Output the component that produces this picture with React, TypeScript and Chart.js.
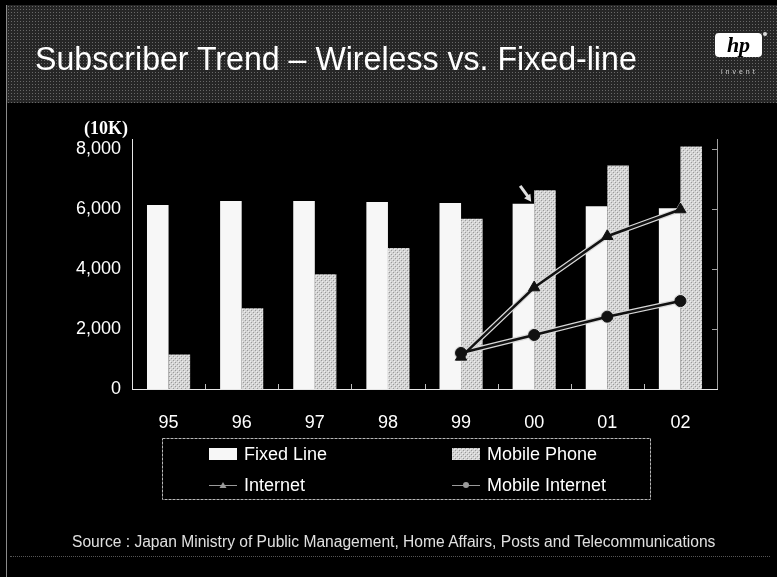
import React, { useEffect, useRef } from "react";
import { Chart, registerables } from "chart.js";

Chart.register(...registerables);

const categories = ["95", "96", "97", "98", "99", "00", "01", "02"];
const fixedLine = [6130, 6260, 6260, 6230, 6200, 6170, 6090, 6020];
const mobilePhone = [1150, 2690, 3825, 4700, 5670, 6625, 7450, 8080];
const internet = [null, null, null, null, 1070, 3380, 5090, 5980];
const mobileInternet = [null, null, null, null, 1200, 1800, 2410, 2930];
const yTicks = [0, 2000, 4000, 6000, 8000];
const seriesNames = ["Fixed Line", "Mobile Phone", "Internet", "Mobile Internet"];

const FONT = "'Liberation Sans', Arial, sans-serif";

function makePattern(): CanvasPattern | string {
  const c = document.createElement("canvas");
  c.width = 4;
  c.height = 4;
  const g = c.getContext("2d");
  if (!g) return "#c8c8c8";
  g.fillStyle = "#d4d4d4";
  g.fillRect(0, 0, 4, 4);
  g.fillStyle = "#9a9a9a";
  g.fillRect(1, 0, 1, 1);
  g.fillRect(3, 2, 1, 1);
  g.fillStyle = "#eeeeee";
  g.fillRect(0, 3, 1, 1);
  g.fillRect(2, 1, 1, 1);
  return g.createPattern(c, "repeat") || "#c8c8c8";
}

const decorPlugin = {
  id: "decor",
  afterDatasetsDraw(chart: any) {
    const { ctx, chartArea: a, scales } = chart;
    const x = scales.x;
    const y = scales.y;
    ctx.save();
    // right axis with inward ticks
    ctx.strokeStyle = "#a0a0a0";
    ctx.lineWidth = 1;
    ctx.beginPath();
    ctx.moveTo(a.right + 0.5, a.top);
    ctx.lineTo(a.right + 0.5, a.bottom);
    yTicks.forEach((v) => {
      if (v === 0) return;
      const py = Math.round(y.getPixelForValue(v)) + 0.5;
      ctx.moveTo(a.right, py);
      ctx.lineTo(a.right - 5, py);
    });
    ctx.stroke();
    // inner x ticks between categories
    ctx.strokeStyle = "#c0c0c0";
    ctx.beginPath();
    for (let i = 1; i < categories.length; i++) {
      const px = Math.round((x.getPixelForValue(i - 1) + x.getPixelForValue(i)) / 2) + 0.5;
      ctx.moveTo(px, a.bottom);
      ctx.lineTo(px, a.bottom - 5);
    }
    ctx.stroke();
    // arrow annotation pointing at Fixed Line 00 bar
    const bar: any = chart.getDatasetMeta(0).data[5];
    if (bar) {
      const tx = bar.x + bar.width / 2 - 3;
      const ty = bar.y - 2;
      const sx = tx - 11;
      const sy = ty - 16;
      ctx.strokeStyle = "#e0e0e0";
      ctx.fillStyle = "#e0e0e0";
      ctx.lineWidth = 3;
      ctx.beginPath();
      ctx.moveTo(sx, sy);
      ctx.lineTo(tx - 3, ty - 5);
      ctx.stroke();
      const ang = Math.atan2(ty - sy, tx - sx);
      ctx.beginPath();
      ctx.moveTo(tx, ty);
      ctx.lineTo(tx - 8 * Math.cos(ang - 0.5), ty - 8 * Math.sin(ang - 0.5));
      ctx.lineTo(tx - 8 * Math.cos(ang + 0.5), ty - 8 * Math.sin(ang + 0.5));
      ctx.closePath();
      ctx.fill();
    }
    ctx.restore();
  },
  afterDraw(chart: any) {
    const { ctx } = chart;
    ctx.save();
    // legend box
    ctx.strokeStyle = "#b8b8b8";
    ctx.lineWidth = 1;
    ctx.setLineDash([3, 1]);
    ctx.strokeRect(162.5, 438.5, 488, 61);
    ctx.setLineDash([]);
    const cols = [209, 452];
    const rows = [454, 485];
    const items = chart.data.datasets.filter((d: any) => !d.isHalo);
    items.forEach((ds: any, i: number) => {
      const cx = cols[i % 2];
      const cy = rows[Math.floor(i / 2)];
      if (ds.type === "line") {
        ctx.strokeStyle = "#9a9a9a";
        ctx.lineWidth = 1;
        ctx.beginPath();
        ctx.moveTo(cx, cy + 0.5);
        ctx.lineTo(cx + 28, cy + 0.5);
        ctx.stroke();
        ctx.fillStyle = "#9a9a9a";
        ctx.beginPath();
        if (ds.pointStyle === "triangle") {
          ctx.moveTo(cx + 14, cy - 3);
          ctx.lineTo(cx + 17.5, cy + 3);
          ctx.lineTo(cx + 10.5, cy + 3);
          ctx.closePath();
        } else {
          ctx.arc(cx + 14, cy, 3, 0, Math.PI * 2);
        }
        ctx.fill();
      } else {
        ctx.fillStyle = ds.backgroundColor;
        ctx.fillRect(cx, cy - 6, 28, 12);
      }
      ctx.fillStyle = "#ffffff";
      ctx.font = "18px " + FONT;
      ctx.textBaseline = "alphabetic";
      ctx.textAlign = "left";
      ctx.fillText(ds.label, cx + 35, cy + 6);
    });
    ctx.restore();
  },
};

export default function App() {
  const canvasRef = useRef<HTMLCanvasElement | null>(null);

  useEffect(() => {
    const canvas = canvasRef.current;
    if (!canvas) return;
    const pattern = makePattern();
    const chart = new Chart(canvas, {
      type: "bar",
      data: {
        labels: categories,
        datasets: [
          {
            type: "bar",
            label: seriesNames[0],
            data: fixedLine,
            backgroundColor: "#f7f7f7",
            borderWidth: 0,
            order: 3,
          },
          {
            type: "bar",
            label: seriesNames[1],
            data: mobilePhone,
            backgroundColor: pattern as any,
            borderWidth: 0,
            order: 3,
          },
          {
            type: "line",
            label: "_halo1",
            isHalo: true,
            data: internet,
            borderColor: "#d8d8d8",
            borderWidth: 5,
            pointStyle: "triangle",
            pointRadius: 8,
            pointBackgroundColor: "#d8d8d8",
            pointBorderWidth: 0,
            order: 2,
          } as any,
          {
            type: "line",
            label: "_halo2",
            isHalo: true,
            data: mobileInternet,
            borderColor: "#d8d8d8",
            borderWidth: 5,
            pointStyle: "circle",
            pointRadius: 7,
            pointBackgroundColor: "#d8d8d8",
            pointBorderWidth: 0,
            order: 2,
          } as any,
          {
            type: "line",
            label: seriesNames[2],
            data: internet,
            borderColor: "#111111",
            borderWidth: 2.5,
            pointStyle: "triangle",
            pointRadius: 6.5,
            pointBackgroundColor: "#111111",
            pointBorderColor: "#111111",
            pointBorderWidth: 1,
            order: 1,
          } as any,
          {
            type: "line",
            label: seriesNames[3],
            data: mobileInternet,
            borderColor: "#111111",
            borderWidth: 2.5,
            pointStyle: "circle",
            pointRadius: 5.5,
            pointBackgroundColor: "#111111",
            pointBorderColor: "#111111",
            pointBorderWidth: 1,
            order: 1,
          } as any,
        ],
      },
      options: {
        responsive: false,
        animation: false,
        events: [],
        datasets: {
          bar: { barPercentage: 1.0, categoryPercentage: 0.59 },
        },
        layout: { padding: { top: 139, right: 60, bottom: 128, left: 0 } },
        plugins: {
          legend: { display: false },
          tooltip: { enabled: false },
          title: { display: false },
        },
        scales: {
          x: {
            grid: { display: false, drawTicks: false },
            border: { display: true, color: "#e6e6e6", width: 1 },
            ticks: {
              color: "#ffffff",
              font: { size: 18, family: FONT },
              padding: 23,
              maxRotation: 0,
            },
            afterFit: (s: any) => {
              s.height = 60;
            },
          },
          y: {
            min: 0,
            max: 8330,
            grid: { display: false, drawTicks: false },
            border: { display: true, color: "#e6e6e6", width: 1 },
            ticks: {
              stepSize: 2000,
              color: "#ffffff",
              font: { size: 18, family: FONT },
              padding: 11,
              callback: (v: any) => Number(v).toLocaleString("en-US"),
            },
            afterBuildTicks: (s: any) => {
              s.ticks = yTicks.map((v) => ({ value: v }));
            },
            afterFit: (s: any) => {
              s.width = 132;
            },
          },
        },
      } as any,
      plugins: [decorPlugin],
    });
    return () => chart.destroy();
  }, []);

  return (
    <div
      style={{
        position: "relative",
        width: 777,
        height: 577,
        background: "#000",
        overflow: "hidden",
      }}
    >
      <style>{`body{margin:0;background:#000;}`}</style>
      <div
        style={{
          position: "absolute",
          left: 7,
          top: 5,
          width: 770,
          height: 98,
          backgroundColor: "#262626",
          backgroundImage:
            "radial-gradient(circle, rgba(140,140,140,0.65) 0.7px, transparent 1px)",
          backgroundSize: "3px 3px",
        }}
      />
      <div
        style={{
          position: "absolute",
          left: 6,
          top: 5,
          width: 1,
          height: 572,
          background: "#8a8a8a",
        }}
      />
      <canvas
        ref={canvasRef}
        width={777}
        height={577}
        style={{ position: "absolute", left: 0, top: 0 }}
      />
      <div
        style={{
          position: "absolute",
          left: 35,
          top: 41,
          fontFamily: FONT,
          fontSize: 34,
          lineHeight: "34px",
          color: "#fff",
          whiteSpace: "nowrap",
          transform: "scaleX(0.945)",
          transformOrigin: "0 0",
        }}
      >
        Subscriber Trend – Wireless vs. Fixed-line
      </div>
      <div
        style={{
          position: "absolute",
          left: 715,
          top: 33,
          width: 47,
          height: 24,
          background: "#fff",
          borderRadius: 4,
          textAlign: "center",
          fontFamily: "'Liberation Serif', serif",
          fontStyle: "italic",
          fontWeight: "bold",
          fontSize: 22,
          lineHeight: "24px",
          color: "#000",
        }}
      >
        hp
      </div>
      <div
        style={{
          position: "absolute",
          left: 763,
          top: 32,
          width: 4,
          height: 4,
          borderRadius: 2,
          background: "#ddd",
        }}
      />
      <div
        style={{
          position: "absolute",
          left: 721,
          top: 68,
          fontFamily: FONT,
          fontSize: 7,
          lineHeight: "8px",
          letterSpacing: 3,
          color: "#ccc",
        }}
      >
        invent
      </div>
      <div
        style={{
          position: "absolute",
          left: 84,
          top: 119,
          fontFamily: "'Liberation Serif', 'Times New Roman', serif",
          fontWeight: "bold",
          fontSize: 18,
          lineHeight: "18px",
          color: "#fff",
        }}
      >
        (10K)
      </div>
      <div
        style={{
          position: "absolute",
          left: 72,
          top: 534,
          fontFamily: FONT,
          fontSize: 15.6,
          lineHeight: "15.6px",
          color: "#e0e0e0",
          whiteSpace: "nowrap",
        }}
      >
        Source : Japan Ministry of Public Management, Home Affairs, Posts and Telecommunications
      </div>
      <div
        style={{
          position: "absolute",
          left: 10,
          top: 556,
          width: 760,
          height: 0,
          borderTop: "1px dotted #555",
        }}
      />
    </div>
  );
}
